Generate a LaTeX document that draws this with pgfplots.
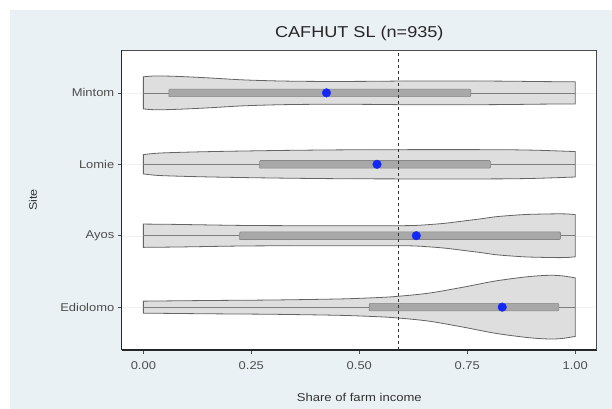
\documentclass[border=0pt]{standalone}
\usepackage{fontspec}
\setmainfont{Liberation Sans}[FakeStretch=1.15]
\usepackage{pgfplots}
\usepackage{pgfplotstable}
\pgfplotsset{compat=1.18}
\usepgfplotslibrary{fillbetween}

\definecolor{panel}{RGB}{234,241,244}
\definecolor{violinfill}{RGB}{222,222,222}
\definecolor{violinline}{RGB}{100,100,100}
\definecolor{whiskerline}{RGB}{125,125,125}
\definecolor{boxfill}{RGB}{168,168,168}
\definecolor{boxline}{RGB}{135,135,135}
\definecolor{dotblue}{RGB}{20,40,245}
\definecolor{textgrey}{RGB}{77,77,77}

% half widths of the violins (x = share, h = half width in category units)
\pgfplotstableread{
x h
0.00 0.225
0.03 0.237
0.08 0.230
0.15 0.210
0.23 0.182
0.31 0.167
0.38 0.161
0.46 0.160
0.54 0.162
0.62 0.167
0.69 0.167
0.77 0.166
0.85 0.163
0.92 0.158
1.00 0.155
}\mintom

\pgfplotstableread{
x h
0.00 0.135
0.04 0.158
0.15 0.177
0.31 0.193
0.46 0.202
0.62 0.205
0.77 0.205
0.85 0.203
0.92 0.195
1.00 0.178
}\lomie

\pgfplotstableread{
x h
0.00 0.163
0.08 0.158
0.23 0.144
0.38 0.140
0.54 0.140
0.62 0.142
0.66 0.155
0.70 0.175
0.74 0.205
0.78 0.235
0.815 0.265
0.85 0.283
0.89 0.298
0.95 0.306
0.98 0.305
1.00 0.295
}\ayos

\pgfplotstableread{
x h
0.00 0.084
0.15 0.093
0.30 0.100
0.45 0.114
0.52 0.128
0.58 0.147
0.66 0.195
0.74 0.279
0.815 0.366
0.89 0.426
0.94 0.446
0.97 0.438
1.00 0.410
}\ediolomo

\pgfplotsset{
  layers/withpanel/.define layer set={bgpanel,axis background,axis grid,axis ticks,axis lines,axis tick labels,pre main,main,axis descriptions,axis foreground}{
    grid style={/pgfplots/on layer=axis grid},
    tick style={/pgfplots/on layer=axis ticks},
    axis line style={/pgfplots/on layer=axis lines},
    label style={/pgfplots/on layer=axis descriptions},
    title style={/pgfplots/on layer=axis descriptions},
    ticklabel style={/pgfplots/on layer=axis tick labels},
    axis background@ style={/pgfplots/on layer=axis background},
  },
  violin/.style={fill=violinfill, draw=violinline, line width=0.8bp},
  edge/.style={draw=none, smooth, tension=0.5},
  whisker/.style={whiskerline, line width=0.6bp},
  iqr/.style={fill=boxfill, draw=boxline, line width=0.6bp, rounded corners=1bp},
}

\begin{document}
\begin{tikzpicture}
\begin{axis}[
  set layers=withpanel,
  at={(0,0)}, anchor=south west,
  scale only axis, width=475bp, height=300bp,
  xmin=-0.05, xmax=1.05, ymin=0.4, ymax=4.6,
  axis x line*=bottom, axis y line*=left,
  axis line style={black!85, line width=1.1bp},
  axis background/.style={fill=white},
  after end axis/.code={
    \draw[black!70, line width=0.8bp] (rel axis cs:0,1) -- (rel axis cs:1,1) -- (rel axis cs:1,0);
  },
  xtick={0,0.25,0.5,0.75,1},
  xticklabels={0.00,0.25,0.50,0.75,1.00},
  ytick={1,2,3,4},
  yticklabels={Ediolomo,Ayos,Lomie,Mintom},
  tick align=outside, major tick length=4bp,
  tick style={black!70, line width=0.6bp},
  ticklabel style={font=\fontsize{11.3}{13}\selectfont, text=textgrey},
  xticklabel style={yshift=-4bp},
  /pgf/number format/assume math mode=true,
  ymajorgrids, major grid style={black!5, line width=0.4bp},
  title={CAFHUT SL (n=935)},
  title style={at={(0.5,1)}, anchor=base, yshift=7bp,
    font=\fontsize{15.8}{18}\selectfont, text=black!85},
  xlabel={Share of farm income},
  xlabel style={at={(axis description cs:0.5,-0.157)}, anchor=center,
    font=\fontsize{11.4}{13}\selectfont, text=black!80},
  ylabel={Site},
  ylabel style={at={(axis description cs:-0.187,0.5)}, anchor=center,
    font=\fontsize{11}{13}\selectfont, text=black!80},
]

% figure background: white strip, then the light panel
\begin{pgfonlayer}{bgpanel}
  \fill[white] (axis description cs:-0.2565,-0.1967) rectangle (axis description cs:1.032,1.1667);
  \fill[panel] (axis description cs:-0.2354,-0.1967) rectangle (axis description cs:1.032,1.1333);
\end{pgfonlayer}

% Mintom
\addplot[edge, name path=mu] table[x=x, y expr=4+\thisrow{h}] {\mintom};
\addplot[edge, name path=ml] table[x=x, y expr=4-\thisrow{h}] {\mintom};
\addplot[violin] fill between[of=mu and ml];
% Lomie
\addplot[edge, name path=lu] table[x=x, y expr=3+\thisrow{h}] {\lomie};
\addplot[edge, name path=ll] table[x=x, y expr=3-\thisrow{h}] {\lomie};
\addplot[violin] fill between[of=lu and ll];
% Ayos
\addplot[edge, name path=au] table[x=x, y expr=2+\thisrow{h}] {\ayos};
\addplot[edge, name path=al] table[x=x, y expr=2-\thisrow{h}] {\ayos};
\addplot[violin] fill between[of=au and al];
% Ediolomo
\addplot[edge, name path=eu] table[x=x, y expr=1+\thisrow{h}] {\ediolomo};
\addplot[edge, name path=el] table[x=x, y expr=1-\thisrow{h}] {\ediolomo};
\addplot[violin] fill between[of=eu and el];

% whiskers
\addplot[whisker] coordinates {(0,4) (1,4)};
\addplot[whisker] coordinates {(0,3) (1,3)};
\addplot[whisker] coordinates {(0,2) (1,2)};
\addplot[whisker] coordinates {(0,1) (1,1)};

% interquartile boxes
\addplot[iqr] coordinates {(0.059,3.947) (0.758,3.947) (0.758,4.053) (0.059,4.053) (0.059,3.947)};
\addplot[iqr] coordinates {(0.269,2.947) (0.804,2.947) (0.804,3.053) (0.269,3.053) (0.269,2.947)};
\addplot[iqr] coordinates {(0.223,1.947) (0.966,1.947) (0.966,2.053) (0.223,2.053) (0.223,1.947)};
\addplot[iqr] coordinates {(0.523,0.947) (0.962,0.947) (0.962,1.053) (0.523,1.053) (0.523,0.947)};

% reference line
\addplot[black!80, line width=0.9bp, dash pattern=on 3bp off 3bp] coordinates {(0.59,0.4) (0.59,4.6)};

% medians
\addplot[only marks, mark=*, mark size=4.3bp, dotblue, mark options={draw=dotblue, fill=dotblue}]
  coordinates {(0.424,4) (0.541,3) (0.632,2) (0.831,1)};

\end{axis}
\pgfresetboundingbox
\path[use as bounding box] (-121.8bp,-59bp) rectangle (490.2bp,350bp);
\end{tikzpicture}
\end{document}
